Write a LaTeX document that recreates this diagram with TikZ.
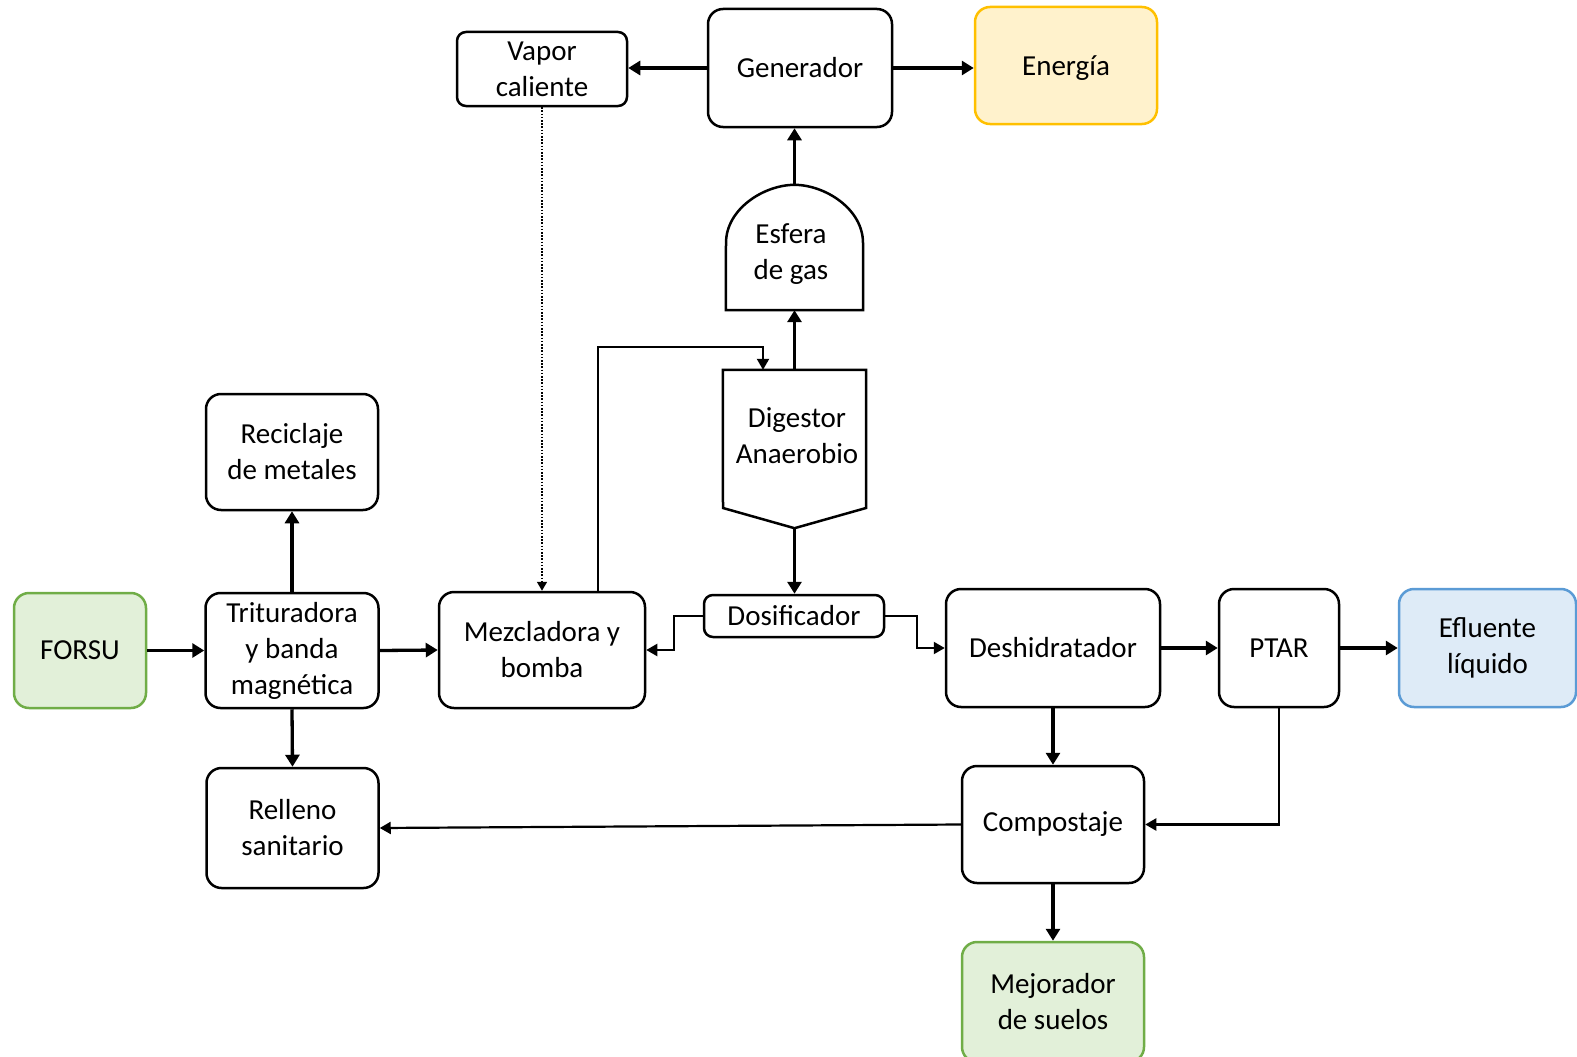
\documentclass[tikz,border=0pt]{standalone}
\usepackage{fontspec}
\setmainfont{Carlito}
\usetikzlibrary{arrows.meta}
\definecolor{grfill}{HTML}{E2F0D9}
\definecolor{grline}{HTML}{70AD47}
\definecolor{yefill}{HTML}{FFF2CC}
\definecolor{yeline}{HTML}{FFC000}
\definecolor{blfill}{HTML}{DEEBF7}
\definecolor{blline}{HTML}{5B9BD5}
\begin{document}
\begin{tikzpicture}[x=1pt,y=-1pt,
  txt/.style={align=center,inner sep=0pt,font=\fontsize{29}{36}\selectfont},
  box/.style={txt,draw=black,line width=2.5pt,rounded corners=15pt,fill=white},
  sbox/.style={box,rounded corners=9pt},
  greenbox/.style={box,draw=grline,fill=grfill},
  yellowbox/.style={box,draw=yeline,fill=yefill},
  bluebox/.style={box,draw=blline,fill=blfill},
  shapearea/.style={inner sep=0pt,draw=none},
  thickarrow/.style={line width=3.3pt,-{Triangle[length=12pt,width=14pt]}},
  thinarrow/.style={line width=2.2pt,-{Triangle[length=11pt,width=12pt]}},
  dotarrow/.style={line width=1.6pt,dash pattern=on 1.6pt off 1.6pt,-{Triangle[length=9pt,width=10pt]}}
]
\useasboundingbox (0,0) rectangle (1577,1057);

% nodes
\node[sbox,minimum width=170,minimum height=74] (vapor) at (542,69) {Vapor\\caliente};
\node[box,minimum width=184,minimum height=118] (gen) at (800,68) {Generador};
\node[yellowbox,minimum width=182,minimum height=117] (energia) at (1066,65.5) {\raisebox{-3pt}[\height][\depth]{Energía}};

\node[shapearea,minimum width=137,minimum height=125] (esf) at (794.5,247.5) {};
\draw[line width=2.5pt,fill=white]
  (esf.south west) -- (726,243)
  .. controls (726,209) and (763.7,185) .. (esf.north)
  .. controls (825.3,185) and (863,209) .. (863,243)
  -- (esf.south east) -- cycle;
\node[txt] (esftxt) at (791,254) {Esfera\\de gas};

\node[shapearea,minimum width=143,minimum height=158] (dig) at (794.5,449) {};
\draw[line width=2.5pt,fill=white]
  (dig.north west) -- (dig.north east) -- (866,508) -- (dig.south) -- (723,508) -- cycle;
\node[txt] (digtxt) at (797,436) {Digestor\\Anaerobio};

\node[box,minimum width=172,minimum height=116] (recic) at (292,452) {Reciclaje\\de metales};
\node[greenbox,minimum width=132,minimum height=115] (forsu) at (80,650.5) {FORSU};
\node[box,minimum width=173,minimum height=115] (trit) at (292,650.5) {Trituradora\\y banda\\magnética};
\node[box,minimum width=206,minimum height=116] (mez) at (542,650) {Mezcladora y\\bomba};
\node[sbox,minimum width=180,minimum height=42] (dosif) at (794,616) {Dosificador};
\node[box,minimum width=214,minimum height=118] (desh) at (1053,648) {Deshidratador};
\node[box,minimum width=120,minimum height=118] (ptar) at (1279,648) {PTAR};
\node[bluebox,minimum width=177,minimum height=118] (eflu) at (1487.5,648) {Efluente\\líquido};
\node[box,minimum width=172,minimum height=120] (relleno) at (292.5,828) {Relleno\\sanitario};
\node[box,minimum width=182,minimum height=117] (compost) at (1053,824.5) {Compostaje};
\node[greenbox,minimum width=182,minimum height=120] (mejor) at (1053,1002) {Mejorador\\de suelos};

% connectors
\draw[thickarrow] (gen.west) -- (vapor.east |- gen.west);
\draw[thickarrow] (gen.east) -- (energia.west |- gen.east);
\draw[thickarrow] (esf.north) -- (esf.north |- gen.south);
\draw[thickarrow] (dig.north) -- (esf.south);
\draw[thickarrow] (dig.south) -- (dig.south |- dosif.north);
\draw[dotarrow] (vapor.south) -- (vapor.south |- mez.north);
\draw[thinarrow] ([xshift=56pt]mez.north) -- ++(0,-244) -| ([xshift=-31.5pt]dig.north);
\draw[thinarrow] (dosif.west) -- ++(-29,0) |- (mez.east);
\draw[thinarrow] (dosif.east) -- ++(32,0) |- (desh.west);
\draw[thickarrow] (forsu.east) -- (trit.west);
\draw[thickarrow] (trit.north) -- (recic.south);
\draw[thickarrow] (trit.south) -- (relleno.north);
\draw[thickarrow] (trit.east) -- (mez.west);
\draw[thickarrow] (desh.east) -- (ptar.west);
\draw[thickarrow] (ptar.east) -- (eflu.west);
\draw[thickarrow] (desh.south) -- (compost.north);
\draw[thinarrow] (ptar.south) |- (compost.east);
\draw[thinarrow] (compost.west) -- (relleno.east);
\draw[thickarrow] (compost.south) -- (mejor.north);
\end{tikzpicture}
\end{document}
